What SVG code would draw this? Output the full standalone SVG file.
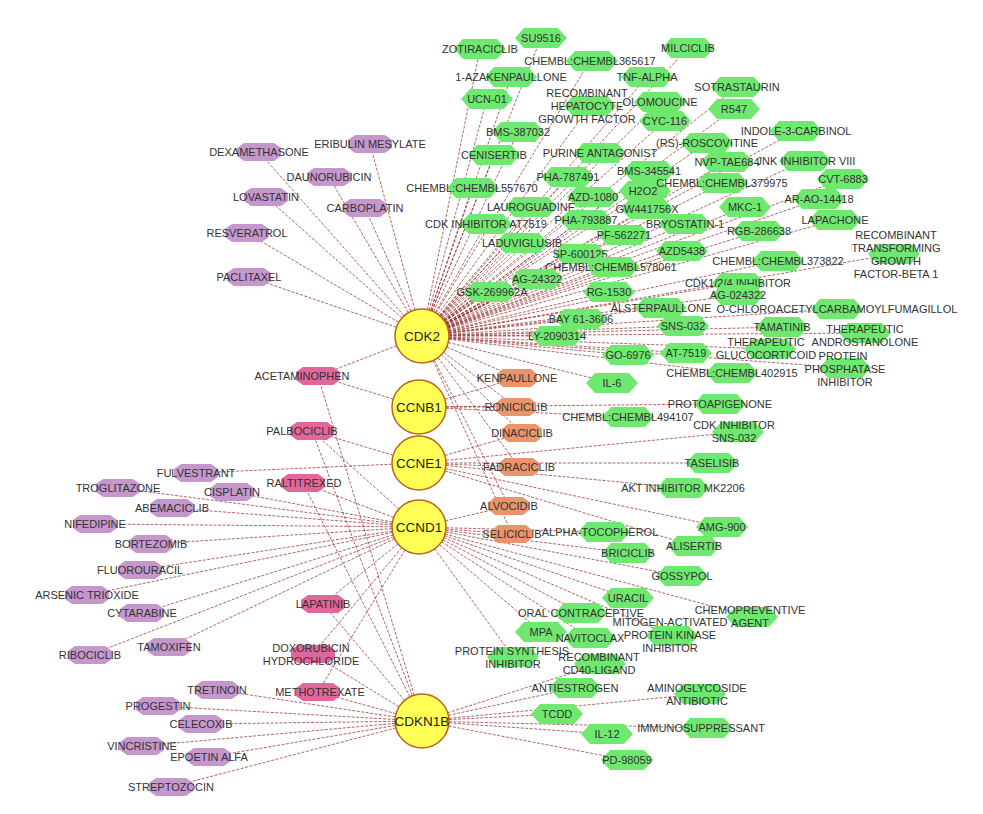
<svg xmlns="http://www.w3.org/2000/svg" width="983" height="814" viewBox="0 0 983 814">
<style>
.e{stroke:#8b1a1a;stroke-width:0.8;stroke-dasharray:3 1.5;fill:none;opacity:.85}
.g{fill:#6ee86e}
.p{fill:#c597cd}
.o{fill:#e9946a}
.k{fill:#e2669a}
.t{font-family:"Liberation Sans",Arial,sans-serif;font-size:11px;fill:#333;text-anchor:middle}
.hc{fill:#ffff55;stroke:#b8651b;stroke-width:1.5}
.ht{font-family:"Liberation Sans",Arial,sans-serif;font-size:13.5px;fill:#222;text-anchor:middle}
</style>
<defs>
<polygon id="hx" points="-26,0 -17,-10 17,-10 26,0 17,10 -17,10"/>
<polygon id="oc" points="-22,-4 -15,-9 15,-9 22,-4 22,4 15,9 -15,9 -22,4"/>
<polygon id="oo" points="-20,-4 -14,-9 14,-9 20,-4 20,4 14,9 -14,9 -20,4"/>
</defs>
<rect width="983" height="814" fill="#fff"/>
<g id="edges">
<line class="e" x1="422" y1="336" x2="541" y2="38"/>
<line class="e" x1="422" y1="336" x2="480" y2="49"/>
<line class="e" x1="422" y1="336" x2="590" y2="61"/>
<line class="e" x1="422" y1="336" x2="688" y2="48"/>
<line class="e" x1="422" y1="336" x2="511" y2="77"/>
<line class="e" x1="422" y1="336" x2="647" y2="77"/>
<line class="e" x1="422" y1="336" x2="590" y2="106"/>
<line class="e" x1="422" y1="336" x2="737" y2="87"/>
<line class="e" x1="422" y1="336" x2="660" y2="102"/>
<line class="e" x1="422" y1="336" x2="734" y2="109"/>
<line class="e" x1="422" y1="336" x2="487" y2="99"/>
<line class="e" x1="422" y1="336" x2="665" y2="121"/>
<line class="e" x1="422" y1="336" x2="518" y2="132"/>
<line class="e" x1="422" y1="336" x2="796" y2="131"/>
<line class="e" x1="422" y1="336" x2="707" y2="143"/>
<line class="e" x1="422" y1="336" x2="494" y2="155"/>
<line class="e" x1="422" y1="336" x2="600" y2="153"/>
<line class="e" x1="422" y1="336" x2="727" y2="162"/>
<line class="e" x1="422" y1="336" x2="804" y2="161"/>
<line class="e" x1="422" y1="336" x2="649" y2="171"/>
<line class="e" x1="422" y1="336" x2="568" y2="177"/>
<line class="e" x1="422" y1="336" x2="472" y2="188"/>
<line class="e" x1="422" y1="336" x2="645" y2="191"/>
<line class="e" x1="422" y1="336" x2="722" y2="183"/>
<line class="e" x1="422" y1="336" x2="843" y2="179"/>
<line class="e" x1="422" y1="336" x2="593" y2="197"/>
<line class="e" x1="422" y1="336" x2="531" y2="207"/>
<line class="e" x1="422" y1="336" x2="647" y2="209"/>
<line class="e" x1="422" y1="336" x2="745" y2="207"/>
<line class="e" x1="422" y1="336" x2="819" y2="199"/>
<line class="e" x1="422" y1="336" x2="486" y2="224"/>
<line class="e" x1="422" y1="336" x2="586" y2="220"/>
<line class="e" x1="422" y1="336" x2="685" y2="224"/>
<line class="e" x1="422" y1="336" x2="835" y2="220"/>
<line class="e" x1="422" y1="336" x2="759" y2="231"/>
<line class="e" x1="422" y1="336" x2="522" y2="243"/>
<line class="e" x1="422" y1="336" x2="624" y2="235"/>
<line class="e" x1="422" y1="336" x2="580" y2="254"/>
<line class="e" x1="422" y1="336" x2="682" y2="251"/>
<line class="e" x1="422" y1="336" x2="894" y2="254"/>
<line class="e" x1="422" y1="336" x2="778" y2="261"/>
<line class="e" x1="422" y1="336" x2="613" y2="267"/>
<line class="e" x1="422" y1="336" x2="537" y2="279"/>
<line class="e" x1="422" y1="336" x2="738" y2="283"/>
<line class="e" x1="422" y1="336" x2="490" y2="292"/>
<line class="e" x1="422" y1="336" x2="609" y2="292"/>
<line class="e" x1="422" y1="336" x2="738" y2="295"/>
<line class="e" x1="422" y1="336" x2="661" y2="308"/>
<line class="e" x1="422" y1="336" x2="837" y2="309"/>
<line class="e" x1="422" y1="336" x2="581" y2="319"/>
<line class="e" x1="422" y1="336" x2="683" y2="326"/>
<line class="e" x1="422" y1="336" x2="782" y2="327"/>
<line class="e" x1="422" y1="336" x2="865" y2="333"/>
<line class="e" x1="422" y1="336" x2="557" y2="336"/>
<line class="e" x1="422" y1="336" x2="770" y2="349"/>
<line class="e" x1="422" y1="336" x2="628" y2="355"/>
<line class="e" x1="422" y1="336" x2="686" y2="353"/>
<line class="e" x1="422" y1="336" x2="845" y2="368"/>
<line class="e" x1="422" y1="336" x2="732" y2="373"/>
<line class="e" x1="422" y1="336" x2="612" y2="383"/>
<line class="e" x1="422" y1="336" x2="370" y2="144"/>
<line class="e" x1="422" y1="336" x2="259" y2="152"/>
<line class="e" x1="422" y1="336" x2="329" y2="177"/>
<line class="e" x1="422" y1="336" x2="266" y2="197"/>
<line class="e" x1="422" y1="336" x2="365" y2="208"/>
<line class="e" x1="422" y1="336" x2="247" y2="233"/>
<line class="e" x1="422" y1="336" x2="249" y2="277"/>
<line class="e" x1="422" y1="336" x2="318" y2="376"/>
<line class="e" x1="422" y1="336" x2="517" y2="378"/>
<line class="e" x1="422" y1="336" x2="516" y2="407"/>
<line class="e" x1="422" y1="336" x2="522" y2="433"/>
<line class="e" x1="422" y1="336" x2="519" y2="467"/>
<line class="e" x1="422" y1="336" x2="509" y2="506"/>
<line class="e" x1="422" y1="336" x2="512" y2="534"/>
<line class="e" x1="419" y1="407" x2="720" y2="404"/>
<line class="e" x1="419" y1="407" x2="628" y2="417"/>
<line class="e" x1="419" y1="407" x2="517" y2="378"/>
<line class="e" x1="419" y1="407" x2="516" y2="407"/>
<line class="e" x1="419" y1="407" x2="318" y2="376"/>
<line class="e" x1="419" y1="463" x2="738" y2="432"/>
<line class="e" x1="419" y1="463" x2="712" y2="463"/>
<line class="e" x1="419" y1="463" x2="683" y2="488"/>
<line class="e" x1="419" y1="463" x2="722" y2="527"/>
<line class="e" x1="419" y1="463" x2="694" y2="546"/>
<line class="e" x1="419" y1="463" x2="196" y2="473"/>
<line class="e" x1="419" y1="463" x2="522" y2="433"/>
<line class="e" x1="419" y1="463" x2="519" y2="467"/>
<line class="e" x1="419" y1="463" x2="312" y2="431"/>
<line class="e" x1="419" y1="527" x2="604" y2="532"/>
<line class="e" x1="419" y1="527" x2="628" y2="553"/>
<line class="e" x1="419" y1="527" x2="682" y2="576"/>
<line class="e" x1="419" y1="527" x2="628" y2="598"/>
<line class="e" x1="419" y1="527" x2="752" y2="617"/>
<line class="e" x1="419" y1="527" x2="581" y2="613"/>
<line class="e" x1="419" y1="527" x2="672" y2="636"/>
<line class="e" x1="419" y1="527" x2="541" y2="632"/>
<line class="e" x1="419" y1="527" x2="590" y2="638"/>
<line class="e" x1="419" y1="527" x2="513" y2="657"/>
<line class="e" x1="419" y1="527" x2="118" y2="488"/>
<line class="e" x1="419" y1="527" x2="232" y2="492"/>
<line class="e" x1="419" y1="527" x2="172" y2="508"/>
<line class="e" x1="419" y1="527" x2="95" y2="524"/>
<line class="e" x1="419" y1="527" x2="151" y2="544"/>
<line class="e" x1="419" y1="527" x2="140" y2="570"/>
<line class="e" x1="419" y1="527" x2="87" y2="595"/>
<line class="e" x1="419" y1="527" x2="142" y2="613"/>
<line class="e" x1="419" y1="527" x2="90" y2="655"/>
<line class="e" x1="419" y1="527" x2="169" y2="647"/>
<line class="e" x1="419" y1="527" x2="312" y2="431"/>
<line class="e" x1="419" y1="527" x2="303" y2="483"/>
<line class="e" x1="419" y1="527" x2="323" y2="604"/>
<line class="e" x1="419" y1="527" x2="313" y2="654"/>
<line class="e" x1="419" y1="527" x2="318" y2="692"/>
<line class="e" x1="419" y1="527" x2="509" y2="506"/>
<line class="e" x1="419" y1="527" x2="512" y2="534"/>
<line class="e" x1="422" y1="721" x2="600" y2="664"/>
<line class="e" x1="422" y1="721" x2="575" y2="688"/>
<line class="e" x1="422" y1="721" x2="700" y2="694"/>
<line class="e" x1="422" y1="721" x2="557" y2="714"/>
<line class="e" x1="422" y1="721" x2="707" y2="728"/>
<line class="e" x1="422" y1="721" x2="607" y2="734"/>
<line class="e" x1="422" y1="721" x2="627" y2="760"/>
<line class="e" x1="422" y1="721" x2="217" y2="690"/>
<line class="e" x1="422" y1="721" x2="158" y2="706"/>
<line class="e" x1="422" y1="721" x2="201" y2="724"/>
<line class="e" x1="422" y1="721" x2="142" y2="746"/>
<line class="e" x1="422" y1="721" x2="209" y2="757"/>
<line class="e" x1="422" y1="721" x2="171" y2="787"/>
<line class="e" x1="422" y1="721" x2="318" y2="376"/>
<line class="e" x1="422" y1="721" x2="312" y2="431"/>
<line class="e" x1="422" y1="721" x2="303" y2="483"/>
<line class="e" x1="422" y1="721" x2="323" y2="604"/>
<line class="e" x1="422" y1="721" x2="313" y2="654"/>
<line class="e" x1="422" y1="721" x2="318" y2="692"/>
</g>

<g id="su9516"><use href="#hx" x="541" y="38" class="g"/><text class="t" x="541" y="42">SU9516</text></g>
<g id="zotiraciclib"><use href="#hx" x="480" y="49" class="g"/><text class="t" x="480" y="53">ZOTIRACICLIB</text></g>
<g id="chembl365617"><use href="#hx" x="592" y="61" class="g"/><text class="t" x="590" y="65">CHEMBL:CHEMBL365617</text></g>
<g id="milciclib"><use href="#hx" x="688" y="48" class="g"/><text class="t" x="688" y="52">MILCICLIB</text></g>
<g id="azakenpaullone"><use href="#hx" x="511" y="77" class="g"/><text class="t" x="511" y="81">1-AZAKENPAULLONE</text></g>
<g id="tnf-alpha"><use href="#hx" x="647" y="77" class="g"/><text class="t" x="647" y="81">TNF-ALPHA</text></g>
<g id="hgf"><use href="#hx" x="590" y="106" class="g"/><text class="t" x="587" y="97">RECOMBINANT<tspan x="587" dy="13">HEPATOCYTE</tspan><tspan x="587" dy="13">GROWTH FACTOR</tspan></text></g>
<g id="sotrastaurin"><use href="#hx" x="737" y="87" class="g"/><text class="t" x="737" y="91">SOTRASTAURIN</text></g>
<g id="olomoucine"><use href="#hx" x="660" y="102" class="g"/><text class="t" x="660" y="106">OLOMOUCINE</text></g>
<g id="r547"><use href="#hx" x="734" y="109" class="g"/><text class="t" x="734" y="113">R547</text></g>
<g id="ucn-01"><use href="#hx" x="487" y="99" class="g"/><text class="t" x="487" y="103">UCN-01</text></g>
<g id="cyc-116"><use href="#hx" x="665" y="121" class="g"/><text class="t" x="665" y="125">CYC-116</text></g>
<g id="bms-387032"><use href="#hx" x="518" y="132" class="g"/><text class="t" x="518" y="136">BMS-387032</text></g>
<g id="indole-3-carbinol"><use href="#hx" x="796" y="131" class="g"/><text class="t" x="796" y="135">INDOLE-3-CARBINOL</text></g>
<g id="roscovitine"><use href="#hx" x="707" y="143" class="g"/><text class="t" x="707" y="147">(RS)-ROSCOVITINE</text></g>
<g id="cenisertib"><use href="#hx" x="494" y="155" class="g"/><text class="t" x="494" y="159">CENISERTIB</text></g>
<g id="purine-antagonist"><use href="#hx" x="600" y="153" class="g"/><text class="t" x="600" y="157">PURINE ANTAGONIST</text></g>
<g id="nvp-tae684"><use href="#hx" x="727" y="162" class="g"/><text class="t" x="727" y="166">NVP-TAE684</text></g>
<g id="jnk-inhibitor-viii"><use href="#hx" x="805" y="161" class="g"/><text class="t" x="806" y="165">JNK INHIBITOR VIII</text></g>
<g id="bms-345541"><use href="#hx" x="649" y="171" class="g"/><text class="t" x="649" y="175">BMS-345541</text></g>
<g id="pha-787491"><use href="#hx" x="568" y="177" class="g"/><text class="t" x="568" y="181">PHA-787491</text></g>
<g id="chembl557670"><use href="#hx" x="473" y="188" class="g"/><text class="t" x="472" y="192">CHEMBL:CHEMBL557670</text></g>
<g id="h2o2"><use href="#hx" x="645" y="191" class="g"/><text class="t" x="643" y="195">H2O2</text></g>
<g id="chembl379975"><use href="#hx" x="722" y="183" class="g"/><text class="t" x="722" y="187">CHEMBL:CHEMBL379975</text></g>
<g id="cvt-6883"><use href="#hx" x="843" y="179" class="g"/><text class="t" x="843" y="183">CVT-6883</text></g>
<g id="azd-1080"><use href="#hx" x="593" y="197" class="g"/><text class="t" x="593" y="201">AZD-1080</text></g>
<g id="lauroguadine"><use href="#hx" x="531" y="207" class="g"/><text class="t" x="531" y="211">LAUROGUADINE</text></g>
<g id="gw441756x"><use href="#hx" x="647" y="209" class="g"/><text class="t" x="647" y="213">GW441756X</text></g>
<g id="mkc-1"><use href="#hx" x="745" y="207" class="g"/><text class="t" x="745" y="211">MKC-1</text></g>
<g id="ar-ao-14418"><use href="#hx" x="819" y="199" class="g"/><text class="t" x="819" y="203">AR-AO-14418</text></g>
<g id="at7519-inhibitor"><use href="#hx" x="486" y="224" class="g"/><text class="t" x="486" y="228">CDK INHIBITOR AT7519</text></g>
<g id="pha-793887"><use href="#hx" x="586" y="220" class="g"/><text class="t" x="586" y="224">PHA-793887</text></g>
<g id="bryostatin-1"><use href="#hx" x="685" y="224" class="g"/><text class="t" x="685" y="228">BRYOSTATIN-1</text></g>
<g id="lapachone"><use href="#hx" x="835" y="220" class="g"/><text class="t" x="835" y="224">LAPACHONE</text></g>
<g id="rgb-286638"><use href="#hx" x="759" y="231" class="g"/><text class="t" x="759" y="235">RGB-286638</text></g>
<g id="laduviglusib"><use href="#hx" x="522" y="243" class="g"/><text class="t" x="522" y="247">LADUVIGLUSIB</text></g>
<g id="pf-562271"><use href="#hx" x="624" y="235" class="g"/><text class="t" x="624" y="239">PF-562271</text></g>
<g id="sp-600125"><use href="#hx" x="580" y="254" class="g"/><text class="t" x="580" y="258">SP-600125</text></g>
<g id="azd5438"><use href="#hx" x="682" y="251" class="g"/><text class="t" x="682" y="255">AZD5438</text></g>
<g id="tgf-beta1"><use href="#hx" x="894" y="254" class="g"/><text class="t" x="896" y="239">RECOMBINANT<tspan x="896" dy="13">TRANSFORMING</tspan><tspan x="896" dy="13">GROWTH</tspan><tspan x="896" dy="13">FACTOR-BETA 1</tspan></text></g>
<g id="chembl373822"><use href="#hx" x="778" y="261" class="g"/><text class="t" x="778" y="265">CHEMBL:CHEMBL373822</text></g>
<g id="chembl578061"><use href="#hx" x="613" y="267" class="g"/><text class="t" x="611" y="271">CHEMBL:CHEMBL578061</text></g>
<g id="ag-24322"><use href="#hx" x="537" y="279" class="g"/><text class="t" x="537" y="283">AG-24322</text></g>
<g id="cdk124-inhibitor"><use href="#hx" x="738" y="283" class="g"/><text class="t" x="738" y="287">CDK1/2/4 INHIBITOR</text></g>
<g id="gsk-269962a"><use href="#hx" x="490" y="292" class="g"/><text class="t" x="492" y="296">GSK-269962A</text></g>
<g id="rg-1530"><use href="#hx" x="609" y="292" class="g"/><text class="t" x="609" y="296">RG-1530</text></g>
<g id="ag-024322"><use href="#hx" x="738" y="295" class="g"/><text class="t" x="738" y="299">AG-024322</text></g>
<g id="alsterpaullone"><use href="#hx" x="661" y="308" class="g"/><text class="t" x="661" y="312">ALSTERPAULLONE</text></g>
<g id="fumagillol"><use href="#hx" x="837" y="309" class="g"/><text class="t" x="837" y="313">O-CHLOROACETYLCARBAMOYLFUMAGILLOL</text></g>
<g id="bay-61-3606"><use href="#hx" x="581" y="319" class="g"/><text class="t" x="581" y="323">BAY 61-3606</text></g>
<g id="sns-032"><use href="#hx" x="683" y="326" class="g"/><text class="t" x="683" y="330">SNS-032</text></g>
<g id="tamatinib"><use href="#hx" x="782" y="327" class="g"/><text class="t" x="782" y="331">TAMATINIB</text></g>
<g id="androstanolone"><use href="#hx" x="865" y="333" class="g"/><text class="t" x="865" y="333">THERAPEUTIC<tspan x="865" dy="13">ANDROSTANOLONE</tspan></text></g>
<g id="ly-2090314"><use href="#hx" x="557" y="336" class="g"/><text class="t" x="557" y="340">LY-2090314</text></g>
<g id="glucocorticoid"><use href="#hx" x="770" y="349" class="g"/><text class="t" x="766" y="346">THERAPEUTIC<tspan x="766" dy="12.5">GLUCOCORTICOID</tspan></text></g>
<g id="go-6976"><use href="#hx" x="628" y="355" class="g"/><text class="t" x="628" y="359">GO-6976</text></g>
<g id="at-7519"><use href="#hx" x="686" y="353" class="g"/><text class="t" x="686" y="357">AT-7519</text></g>
<g id="phosphatase-inhibitor"><use href="#hx" x="845" y="368" class="g"/><text class="t" x="843" y="360">PROTEIN<tspan x="845" dy="13">PHOSPHATASE</tspan><tspan x="845" dy="13">INHIBITOR</tspan></text></g>
<g id="chembl402915"><use href="#hx" x="732" y="373" class="g"/><text class="t" x="732" y="377">CHEMBL:CHEMBL402915</text></g>
<g id="il-6"><use href="#hx" x="612" y="383" class="g"/><text class="t" x="612" y="387">IL-6</text></g>
<g id="protoapigenone"><use href="#hx" x="720" y="404" class="g"/><text class="t" x="720" y="408">PROTOAPIGENONE</text></g>
<g id="chembl494107"><use href="#hx" x="628" y="417" class="g"/><text class="t" x="628" y="421">CHEMBL:CHEMBL494107</text></g>
<g id="cdk-inhibitor-sns-032"><use href="#hx" x="738" y="432" class="g"/><text class="t" x="734" y="429">CDK INHIBITOR<tspan x="734" dy="13">SNS-032</tspan></text></g>
<g id="taselisib"><use href="#hx" x="712" y="463" class="g"/><text class="t" x="712" y="467">TASELISIB</text></g>
<g id="mk2206"><use href="#hx" x="683" y="488" class="g"/><text class="t" x="683" y="492">AKT INHIBITOR MK2206</text></g>
<g id="amg-900"><use href="#hx" x="722" y="527" class="g"/><text class="t" x="722" y="531">AMG-900</text></g>
<g id="alpha-tocopherol"><use href="#hx" x="604" y="532" class="g"/><text class="t" x="600" y="536">ALPHA-TOCOPHEROL</text></g>
<g id="alisertib"><use href="#hx" x="694" y="546" class="g"/><text class="t" x="694" y="550">ALISERTIB</text></g>
<g id="briciclib"><use href="#hx" x="628" y="553" class="g"/><text class="t" x="628" y="557">BRICICLIB</text></g>
<g id="gossypol"><use href="#hx" x="682" y="576" class="g"/><text class="t" x="682" y="580">GOSSYPOL</text></g>
<g id="uracil"><use href="#hx" x="628" y="598" class="g"/><text class="t" x="628" y="602">URACIL</text></g>
<g id="chemopreventive-agent"><use href="#hx" x="752" y="617" class="g"/><text class="t" x="750" y="614">CHEMOPREVENTIVE<tspan x="750" dy="12.5">AGENT</tspan></text></g>
<g id="oral-contraceptive"><use href="#hx" x="581" y="613" class="g"/><text class="t" x="581" y="617">ORAL CONTRACEPTIVE</text></g>
<g id="mapk-inhibitor"><use href="#hx" x="672" y="636" class="g"/><text class="t" x="670" y="626">MITOGEN-ACTIVATED<tspan x="670" dy="13">PROTEIN KINASE</tspan><tspan x="670" dy="13">INHIBITOR</tspan></text></g>
<g id="mpa"><use href="#hx" x="541" y="632" class="g"/><text class="t" x="541" y="636">MPA</text></g>
<g id="navitoclax"><use href="#hx" x="590" y="638" class="g"/><text class="t" x="590" y="642">NAVITOCLAX</text></g>
<g id="protein-synthesis-inhibitor"><use href="#hx" x="513" y="657" class="g"/><text class="t" x="512" y="655">PROTEIN SYNTHESIS<tspan x="513" dy="13">INHIBITOR</tspan></text></g>
<g id="cd40-ligand"><use href="#hx" x="600" y="664" class="g"/><text class="t" x="599" y="661">RECOMBINANT<tspan x="599" dy="13">CD40-LIGAND</tspan></text></g>
<g id="antiestrogen"><use href="#hx" x="575" y="688" class="g"/><text class="t" x="575" y="692">ANTIESTROGEN</text></g>
<g id="aminoglycoside"><use href="#hx" x="700" y="694" class="g"/><text class="t" x="697" y="692">AMINOGLYCOSIDE<tspan x="697" dy="13">ANTIBIOTIC</tspan></text></g>
<g id="tcdd"><use href="#hx" x="557" y="714" class="g"/><text class="t" x="557" y="718">TCDD</text></g>
<g id="immunosuppressant"><use href="#hx" x="707" y="728" class="g"/><text class="t" x="701" y="732">IMMUNOSUPPRESSANT</text></g>
<g id="il-12"><use href="#hx" x="607" y="734" class="g"/><text class="t" x="607" y="738">IL-12</text></g>
<g id="pd-98059"><use href="#hx" x="627" y="760" class="g"/><text class="t" x="627" y="764">PD-98059</text></g>

<g id="eribulin"><use href="#oc" x="370" y="144" class="p"/><text class="t" x="370" y="148">ERIBULIN MESYLATE</text></g>
<g id="dexamethasone"><use href="#oc" x="259" y="152" class="p"/><text class="t" x="259" y="156">DEXAMETHASONE</text></g>
<g id="daunorubicin"><use href="#oc" x="329" y="177" class="p"/><text class="t" x="329" y="181">DAUNORUBICIN</text></g>
<g id="lovastatin"><use href="#oc" x="266" y="197" class="p"/><text class="t" x="266" y="201">LOVASTATIN</text></g>
<g id="carboplatin"><use href="#oc" x="365" y="208" class="p"/><text class="t" x="365" y="212">CARBOPLATIN</text></g>
<g id="resveratrol"><use href="#oc" x="247" y="233" class="p"/><text class="t" x="247" y="237">RESVERATROL</text></g>
<g id="paclitaxel"><use href="#oc" x="249" y="277" class="p"/><text class="t" x="249" y="281">PACLITAXEL</text></g>
<g id="fulvestrant"><use href="#oc" x="196" y="473" class="p"/><text class="t" x="196" y="477">FULVESTRANT</text></g>
<g id="troglitazone"><use href="#oc" x="118" y="488" class="p"/><text class="t" x="118" y="492">TROGLITAZONE</text></g>
<g id="cisplatin"><use href="#oc" x="232" y="492" class="p"/><text class="t" x="232" y="496">CISPLATIN</text></g>
<g id="abemaciclib"><use href="#oc" x="172" y="508" class="p"/><text class="t" x="172" y="512">ABEMACICLIB</text></g>
<g id="nifedipine"><use href="#oc" x="95" y="524" class="p"/><text class="t" x="95" y="528">NIFEDIPINE</text></g>
<g id="bortezomib"><use href="#oc" x="151" y="544" class="p"/><text class="t" x="151" y="548">BORTEZOMIB</text></g>
<g id="fluorouracil"><use href="#oc" x="140" y="570" class="p"/><text class="t" x="140" y="574">FLUOROURACIL</text></g>
<g id="arsenic-trioxide"><use href="#oc" x="87" y="595" class="p"/><text class="t" x="87" y="599">ARSENIC TRIOXIDE</text></g>
<g id="cytarabine"><use href="#oc" x="142" y="613" class="p"/><text class="t" x="142" y="617">CYTARABINE</text></g>
<g id="ribociclib"><use href="#oc" x="90" y="655" class="p"/><text class="t" x="90" y="659">RIBOCICLIB</text></g>
<g id="tamoxifen"><use href="#oc" x="169" y="647" class="p"/><text class="t" x="169" y="651">TAMOXIFEN</text></g>
<g id="tretinoin"><use href="#oc" x="217" y="690" class="p"/><text class="t" x="217" y="694">TRETINOIN</text></g>
<g id="progestin"><use href="#oc" x="158" y="706" class="p"/><text class="t" x="158" y="710">PROGESTIN</text></g>
<g id="celecoxib"><use href="#oc" x="201" y="724" class="p"/><text class="t" x="201" y="728">CELECOXIB</text></g>
<g id="vincristine"><use href="#oc" x="142" y="746" class="p"/><text class="t" x="142" y="750">VINCRISTINE</text></g>
<g id="epoetin-alfa"><use href="#oc" x="209" y="757" class="p"/><text class="t" x="209" y="761">EPOETIN ALFA</text></g>
<g id="streptozocin"><use href="#oc" x="171" y="787" class="p"/><text class="t" x="171" y="791">STREPTOZOCIN</text></g>

<g id="acetaminophen"><use href="#oc" x="318" y="376" class="k"/><text class="t" x="302" y="380">ACETAMINOPHEN</text></g>
<g id="palbociclib"><use href="#oc" x="312" y="431" class="k"/><text class="t" x="302" y="435">PALBOCICLIB</text></g>
<g id="raltitrexed"><use href="#oc" x="303" y="483" class="k"/><text class="t" x="304" y="487">RALTITREXED</text></g>
<g id="lapatinib"><use href="#oc" x="323" y="604" class="k"/><text class="t" x="323" y="608">LAPATINIB</text></g>
<g id="doxorubicin"><use href="#oc" x="313" y="654" class="k"/><text class="t" x="311" y="652">DOXORUBICIN<tspan x="311" dy="13">HYDROCHLORIDE</tspan></text></g>
<g id="methotrexate"><use href="#oc" x="318" y="692" class="k"/><text class="t" x="320" y="696">METHOTREXATE</text></g>

<g id="kenpaullone"><use href="#oo" x="517" y="378" class="o"/><text class="t" x="517" y="382">KENPAULLONE</text></g>
<g id="roniciclib"><use href="#oo" x="516" y="407" class="o"/><text class="t" x="516" y="411">RONICICLIB</text></g>
<g id="dinaciclib"><use href="#oo" x="522" y="433" class="o"/><text class="t" x="522" y="437">DINACICLIB</text></g>
<g id="fadraciclib"><use href="#oo" x="519" y="467" class="o"/><text class="t" x="519" y="471">FADRACICLIB</text></g>
<g id="alvocidib"><use href="#oo" x="509" y="506" class="o"/><text class="t" x="509" y="510">ALVOCIDIB</text></g>
<g id="seliciclib"><use href="#oo" x="512" y="534" class="o"/><text class="t" x="512" y="538">SELICICLIB</text></g>

<g id="cdk2"><circle class="hc" cx="422" cy="336" r="27"/><text class="ht" x="422" y="341">CDK2</text></g>
<g id="ccnb1"><circle class="hc" cx="419" cy="407" r="27"/><text class="ht" x="419" y="412">CCNB1</text></g>
<g id="ccne1"><circle class="hc" cx="419" cy="463" r="27"/><text class="ht" x="419" y="468">CCNE1</text></g>
<g id="ccnd1"><circle class="hc" cx="419" cy="527" r="27"/><text class="ht" x="419" y="532">CCND1</text></g>
<g id="cdkn1b"><circle class="hc" cx="422" cy="721" r="27"/><text class="ht" x="422" y="726">CDKN1B</text></g>
</svg>
